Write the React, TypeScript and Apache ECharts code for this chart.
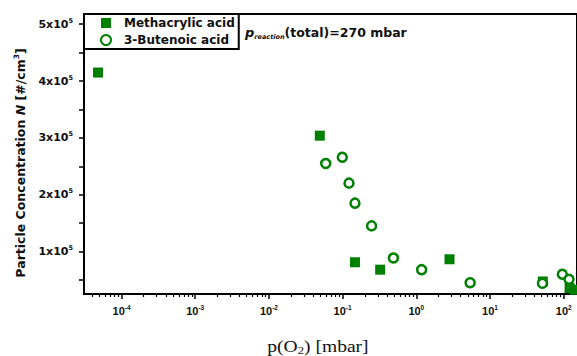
import React, { useEffect, useRef } from 'react';
import * as echarts from 'echarts';

const seriesNames = ['Methacrylic acid', '3-Butenoic acid'];
const methacrylicX = [4.8e-5, 0.049, 0.147, 0.323, 2.82, 52, 120, 140];
const methacrylicY = [415000, 304000, 81300, 68300, 86600, 47500, 36000, 33000];
const butenoicX = [0.059, 0.099, 0.122, 0.147, 0.247, 0.489, 1.18, 5.37, 51.4, 95.7, 118];
const butenoicY = [255000, 266000, 220500, 185300, 145300, 88900, 68300, 45400, 44300, 60200, 51400];
const xMajorExponents = [-4, -3, -2, -1, 0, 1, 2];
const yTickValues = [50000, 100000, 150000, 200000, 250000, 300000, 350000, 400000, 450000, 500000];
const yLabelValues = [100000, 200000, 300000, 400000, 500000];
const xMin = -4.509;
const xMax = 2.18;
const yMin = 25500;
const yMax = 518000;

const GREEN = '#008000';
const BOLD = 'DejaVu Sans';

function minorLogTicks(): number[] {
  const out: number[] = [];
  for (let e = -5; e <= 2; e++) {
    for (let k = 2; k <= 9; k++) {
      const v = Math.log10(k) + e;
      if (v >= xMin && v <= xMax) out.push(v);
    }
  }
  return out;
}

export default function App() {
  const ref = useRef<HTMLDivElement>(null);
  useEffect(() => {
    document.body.style.margin = '0';
    const chart = echarts.init(ref.current!, undefined, { renderer: 'svg' });
    const majors = xMajorExponents.filter((v) => v >= xMin && v <= xMax);
    chart.setOption({
      animation: false,
      grid: { left: 84, right: -2, top: 14, bottom: 62, show: true, borderColor: '#000', borderWidth: 2, backgroundColor: 'transparent' },
      legend: {
        orient: 'vertical',
        left: 84,
        top: 14,
        data: seriesNames,
        borderColor: '#000',
        borderWidth: 2,
        backgroundColor: '#fff',
        padding: [3, 4, 3, 16],
        itemGap: 5,
        itemWidth: 10,
        itemHeight: 10,
        textStyle: { fontFamily: BOLD, fontWeight: 'bold', fontSize: 12, color: '#111', padding: [0, 0, 0, 8] },
      },
      xAxis: [
        {
          type: 'value',
          min: xMin,
          max: xMax,
          position: 'bottom',
          splitLine: { show: false },
          axisLine: { show: true, onZero: false, lineStyle: { color: '#000', width: 2 } },
          axisTick: { show: true, length: 5, customValues: majors, lineStyle: { color: '#000', width: 1.5 } },
          axisLabel: {
            customValues: majors,
            margin: 10,
            formatter: (v: number) => `{b|10}{s|${Math.round(v)}}`,
            rich: {
              b: { fontFamily: 'Liberation Sans', fontWeight: 'bold', fontSize: 11, color: '#111', lineHeight: 13 },
              s: { fontFamily: 'Liberation Sans', fontWeight: 'bold', fontSize: 6.5, color: '#111', verticalAlign: 'top', lineHeight: 8 },
            },
          },
        },
        {
          type: 'value',
          min: xMin,
          max: xMax,
          position: 'bottom',
          splitLine: { show: false },
          axisLine: { show: false, onZero: false },
          axisTick: { show: true, length: 3, customValues: minorLogTicks(), lineStyle: { color: '#000', width: 1.2 } },
          axisLabel: { show: false },
        },
      ],
      yAxis: {
        type: 'value',
        min: yMin,
        max: yMax,
        splitLine: { show: false },
        axisLine: { show: true, onZero: false, lineStyle: { color: '#000', width: 2 } },
        axisTick: { show: true, length: 5, customValues: yTickValues, lineStyle: { color: '#000', width: 1.5 } },
        axisLabel: {
          customValues: yLabelValues,
          margin: 11,
          formatter: (v: number) => `{b|${Math.round(v / 100000)}x10}{s|5}`,
          rich: {
            b: { fontFamily: BOLD, fontWeight: 'bold', fontSize: 11, color: '#111', lineHeight: 14 },
            s: { fontFamily: BOLD, fontWeight: 'bold', fontSize: 6.5, color: '#111', verticalAlign: 'top', lineHeight: 8 },
          },
        },
      },
      series: [
        {
          name: seriesNames[0],
          type: 'scatter',
          symbol: 'rect',
          symbolSize: 10,
          itemStyle: { color: GREEN, opacity: 1 },
          data: methacrylicX.map((x, i) => [Math.log10(x), methacrylicY[i]]),
          z: 2,
        },
        {
          name: seriesNames[1],
          type: 'scatter',
          symbol: 'circle',
          symbolSize: 9,
          itemStyle: { color: '#fff', borderColor: GREEN, borderWidth: 2.5, opacity: 1 },
          data: butenoicX.map((x, i) => [Math.log10(x), butenoicY[i]]),
          z: 3,
        },
      ],
      graphic: [
        {
          type: 'text',
          x: 245,
          y: 32,
          style: {
            text: '{p|p}{sub|reaction}{t|(total)=270 mbar}',
            verticalAlign: 'middle',
            rich: {
              p: { fontFamily: BOLD, fontWeight: 'bold', fontStyle: 'italic', fontSize: 13, fill: '#111', lineHeight: 16 },
              sub: { fontFamily: BOLD, fontWeight: 'bold', fontStyle: 'italic', fontSize: 6.5, fill: '#111', verticalAlign: 'bottom', lineHeight: 8 },
              t: { fontFamily: BOLD, fontWeight: 'bold', fontSize: 12.5, fill: '#111', lineHeight: 16 },
            },
          },
        },
        {
          type: 'text',
          x: 318,
          y: 346,
          scaleX: 1.15,
          style: {
            text: '{a|p(O}{sub|2}{a|) [mbar]}',
            align: 'center',
            verticalAlign: 'middle',
            rich: {
              a: { fontFamily: 'Liberation Serif', fontSize: 17, fill: '#111', lineHeight: 20 },
              sub: { fontFamily: 'Liberation Serif', fontSize: 11, fill: '#111', verticalAlign: 'bottom', lineHeight: 12 },
            },
          },
        },
        {
          type: 'text',
          x: 20,
          y: 163,
          rotation: Math.PI / 2,
          style: {
            text: '{a|Particle Concentration }{i|N}{a| [#/cm}{sup|3}{a|]}',
            align: 'center',
            verticalAlign: 'middle',
            rich: {
              a: { fontFamily: BOLD, fontWeight: 'bold', fontSize: 12.5, fill: '#111', lineHeight: 15 },
              i: { fontFamily: BOLD, fontWeight: 'bold', fontStyle: 'italic', fontSize: 12.5, fill: '#111', lineHeight: 15 },
              sup: { fontFamily: BOLD, fontWeight: 'bold', fontSize: 7.5, fill: '#111', verticalAlign: 'top', lineHeight: 9 },
            },
          },
        },
      ],
    });
    return () => chart.dispose();
  }, []);
  return <div ref={ref} style={{ width: 577, height: 356 }} />;
}
